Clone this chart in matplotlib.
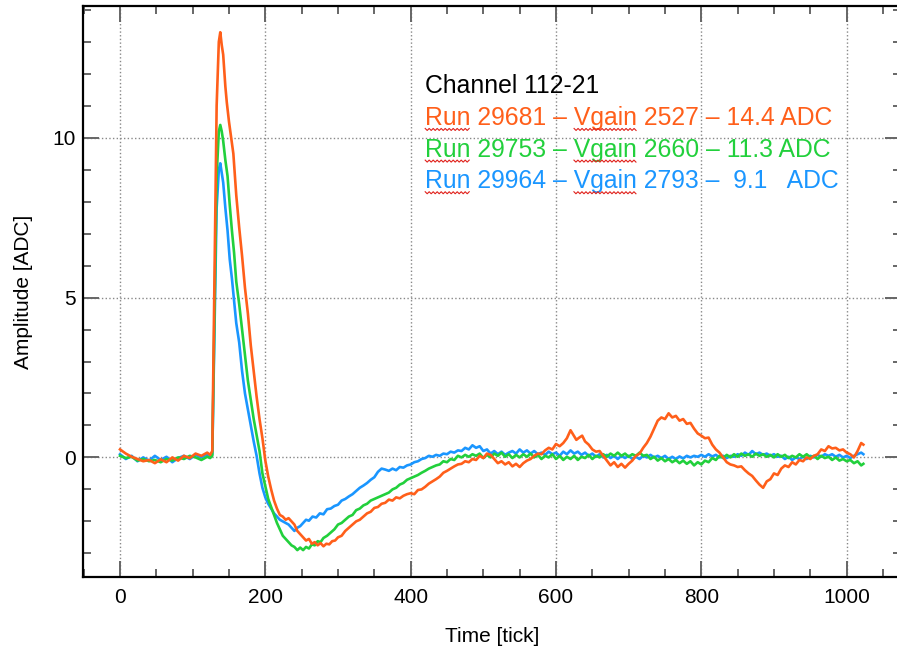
import matplotlib
matplotlib.use('Agg')
import matplotlib.pyplot as plt
from matplotlib.ticker import MultipleLocator
import numpy as np

# Fonts: Helvetica-like sans for axes, same family for the annotation block
plt.rcParams['font.family'] = ['Liberation Sans', 'DejaVu Sans']
plt.rcParams['font.size'] = 15

# Colours (ROOT style pulse overlay)
C_ORANGE = '#FF5F1A'
C_GREEN = '#22D03C'
C_BLUE = '#1A96FF'
C_SQUIGGLE = '#E0201A'

# ── Waveform samples (tick, amplitude [ADC]) ──────────────────────────────────
tick_orange = [0, 8, 16, 24, 32, 40, 48, 56, 64, 72, 80, 88, 96, 104, 112, 120, 124, 127,
               130, 133, 136, 138, 140, 142, 145, 147, 150, 153, 156, 160, 164, 168, 172,
               176, 180, 184, 188, 192, 196, 200, 204, 208, 212, 216, 220, 224, 228, 232,
               236, 240, 244, 248, 252, 256, 260, 264, 268, 272, 276, 280, 284, 288, 292,
               296, 300, 305, 310, 315, 320, 325, 330, 335, 340, 345, 350, 355, 360, 365,
               370, 375, 380, 385, 390, 395, 400, 405, 410, 415, 420, 425, 430, 435, 440,
               445, 450, 455, 460, 465, 470, 475, 480, 485, 490, 495, 500, 505, 510, 515,
               520, 525, 530, 535, 540, 545, 550, 555, 560, 565, 570, 575, 580, 585, 590,
               595, 600, 605, 610, 615, 620, 624, 628, 632, 636, 640, 645, 650, 655, 660,
               665, 670, 675, 680, 685, 690, 695, 700, 705, 710, 715, 720, 725, 730, 735,
               740, 745, 750, 755, 760, 765, 770, 775, 780, 785, 790, 795, 800, 805, 810,
               815, 820, 825, 830, 835, 840, 845, 850, 855, 860, 865, 870, 875, 880, 885,
               890, 895, 900, 905, 910, 915, 920, 925, 930, 935, 940, 945, 950, 955, 960,
               965, 970, 975, 980, 985, 990, 995, 1000, 1005, 1010, 1015, 1020, 1023]
amp_orange = [0.25, 0.12, 0.02, -0.05, -0.12, -0.08, -0.18, -0.06, -0.15, 0.0, -0.1, 0.05,
              -0.02, 0.12, 0.05, 0.15, 0.08, 0.2,
              5.5, 11.0, 13.0, 13.3, 12.9, 12.6, 11.6, 11.1, 10.5, 10.0, 9.5, 8.2, 7.2, 6.3,
              5.3, 4.5, 3.5, 2.7, 1.9, 1.2, 0.6, -0.1, -0.6, -1.0, -1.35, -1.6, -1.8, -1.85,
              -1.95, -1.9, -2.0, -2.1, -2.3, -2.4, -2.5, -2.6, -2.55, -2.7, -2.65, -2.75,
              -2.68, -2.78, -2.7, -2.72, -2.62, -2.6, -2.5, -2.45, -2.3, -2.2, -2.1, -2.0,
              -1.95, -1.85, -1.75, -1.7, -1.58, -1.55, -1.45, -1.42, -1.32, -1.35, -1.25,
              -1.28, -1.2, -1.15, -1.12, -1.15, -1.02, -1.0, -0.92, -0.82, -0.75, -0.68,
              -0.6, -0.48, -0.42, -0.35, -0.28, -0.22, -0.2, -0.12, -0.15, -0.05, -0.08,
              0.05, -0.02, 0.12, 0.08, -0.05, -0.18, -0.12, -0.22, -0.15, -0.28, -0.2, -0.3,
              -0.18, -0.1, -0.05, 0.05, 0.12, 0.1, 0.22, 0.3, 0.25, 0.42, 0.35, 0.45, 0.6,
              0.85, 0.7, 0.55, 0.62, 0.68, 0.5, 0.4, 0.25, 0.18, 0.2, 0.05, -0.1, -0.25,
              -0.15, -0.3, -0.2, -0.32, -0.2, -0.1, 0.05, 0.12, 0.3, 0.45, 0.65, 0.9, 1.15,
              1.25, 1.2, 1.38, 1.25, 1.3, 1.15, 1.2, 1.05, 1.08, 0.9, 0.75, 0.68, 0.6, 0.62,
              0.4, 0.25, 0.15, 0.0, -0.15, -0.22, -0.25, -0.3, -0.28, -0.4, -0.5, -0.58,
              -0.72, -0.85, -0.95, -0.75, -0.68, -0.5, -0.55, -0.35, -0.25, -0.3, -0.15,
              -0.22, -0.08, -0.12, 0.0, -0.05, 0.05, 0.1, 0.25, 0.2, 0.35, 0.28, 0.3, 0.22,
              0.25, 0.15, 0.1, 0.0, 0.2, 0.45, 0.4]

tick_green = [0, 8, 16, 24, 32, 40, 48, 56, 64, 72, 80, 88, 96, 104, 112, 120, 124, 127,
              130, 133, 136, 138, 140, 142, 145, 148, 151, 154, 157, 160, 164, 168, 172,
              176, 180, 184, 188, 192, 196, 200, 204, 208, 212, 216, 220, 224, 228, 232,
              236, 240, 244, 248, 252, 256, 260, 264, 268, 272, 276, 280, 285, 290, 295,
              300, 305, 310, 315, 320, 325, 330, 335, 340, 345, 350, 355, 360, 365, 370,
              375, 380, 385, 390, 395, 400, 405, 410, 415, 420, 425, 430, 435, 440, 445,
              450, 455, 460, 465, 470, 475, 480, 485, 490, 495, 500, 505, 510, 515, 520,
              525, 530, 535, 540, 545, 550, 555, 560, 565, 570, 575, 580, 585, 590, 595,
              600, 605, 610, 615, 620, 625, 630, 635, 640, 645, 650, 655, 660, 665, 670,
              675, 680, 685, 690, 695, 700, 705, 710, 715, 720, 725, 730, 735, 740, 745,
              750, 755, 760, 765, 770, 775, 780, 785, 790, 795, 800, 805, 810, 815, 820,
              825, 830, 835, 840, 845, 850, 855, 860, 865, 870, 875, 880, 885, 890, 895,
              900, 905, 910, 915, 920, 925, 930, 935, 940, 945, 950, 955, 960, 965, 970,
              975, 980, 985, 990, 995, 1000, 1005, 1010, 1015, 1020, 1023]
amp_green = [0.05, -0.02, 0.02, -0.1, -0.05, -0.12, -0.08, -0.15, -0.05, -0.1, 0.0, -0.05,
             0.05, 0.0, -0.08, 0.02, -0.02, 0.05,
             4.5, 8.8, 10.2, 10.4, 10.2, 9.9, 9.3, 8.8, 7.9, 7.1, 6.4, 5.5, 4.8, 4.0, 3.2,
             2.4, 1.8, 1.2, 0.7, 0.2, -0.5, -0.9, -1.3, -1.55, -1.8, -2.05, -2.25, -2.45,
             -2.55, -2.65, -2.75, -2.8, -2.9, -2.82, -2.9, -2.8, -2.85, -2.72, -2.75, -2.62,
             -2.65, -2.52, -2.45, -2.35, -2.25, -2.1, -2.05, -1.95, -1.85, -1.8, -1.65,
             -1.6, -1.5, -1.45, -1.35, -1.3, -1.25, -1.2, -1.15, -1.1, -1.0, -0.95, -0.85,
             -0.8, -0.7, -0.65, -0.6, -0.55, -0.48, -0.42, -0.35, -0.3, -0.25, -0.22,
             -0.12, -0.15, -0.05, -0.08, 0.05, 0.0, 0.08, 0.02, 0.1, 0.05, 0.12, -0.02,
             0.08, 0.0, 0.12, 0.05, 0.15, 0.02, 0.1, -0.02, 0.08, 0.0, 0.1, 0.02, 0.12, 0.0,
             0.08, -0.05, 0.05, 0.0, 0.1, -0.05, 0.05, -0.08, 0.02, -0.05, 0.05, -0.08,
             0.02, -0.02, 0.08, -0.05, 0.05, 0.0, 0.1, 0.02, 0.12, 0.05, 0.15, 0.05, 0.12,
             0.02, 0.1, 0.05, 0.15, 0.05, 0.08, -0.05, 0.02, -0.1, -0.02, -0.12, -0.05,
             -0.15, -0.08, -0.18, -0.1, -0.2, -0.12, -0.25, -0.15, -0.22, -0.1, -0.15,
             -0.02, -0.08, 0.05, -0.02, 0.08, 0.0, 0.1, 0.02, 0.12, 0.05, 0.1, 0.02, 0.12,
             0.05, 0.1, 0.02, 0.08, 0.0, 0.1, 0.02, 0.08, -0.02, 0.05, 0.0, 0.1, 0.02, 0.1,
             0.0, 0.05, -0.05, 0.05, -0.02, 0.02, -0.08, 0.0, -0.1, -0.05, -0.12, -0.08,
             -0.18, -0.12, -0.25, -0.2]

tick_blue = [0, 8, 16, 24, 32, 40, 48, 56, 64, 72, 80, 88, 96, 104, 112, 120, 124, 127,
             130, 133, 136, 138, 140, 142, 145, 148, 151, 154, 157, 160, 164, 168, 172,
             176, 180, 184, 188, 192, 196, 200, 204, 208, 212, 216, 220, 224, 228, 232,
             236, 240, 244, 248, 252, 256, 260, 265, 270, 275, 280, 285, 290, 295, 300,
             305, 310, 315, 320, 325, 330, 335, 340, 345, 350, 355, 360, 365, 370, 375,
             380, 385, 390, 395, 400, 405, 410, 415, 420, 425, 430, 435, 440, 445, 450,
             455, 460, 465, 470, 475, 480, 485, 490, 495, 500, 505, 510, 515, 520, 525,
             530, 535, 540, 545, 550, 555, 560, 565, 570, 575, 580, 585, 590, 595, 600,
             605, 610, 615, 620, 625, 630, 635, 640, 645, 650, 655, 660, 665, 670, 675,
             680, 685, 690, 695, 700, 705, 710, 715, 720, 725, 730, 735, 740, 745, 750,
             755, 760, 765, 770, 775, 780, 785, 790, 795, 800, 805, 810, 815, 820, 825,
             830, 835, 840, 845, 850, 855, 860, 865, 870, 875, 880, 885, 890, 895, 900,
             905, 910, 915, 920, 925, 930, 935, 940, 945, 950, 955, 960, 965, 970, 975,
             980, 985, 990, 995, 1000, 1005, 1010, 1015, 1020, 1023]
amp_blue = [0.1, -0.05, 0.05, -0.12, 0.0, -0.1, 0.05, -0.08, 0.02, -0.15, -0.02, 0.05,
            -0.05, 0.08, 0.0, 0.1, 0.02, 0.1,
            4.0, 7.8, 9.0, 9.2, 8.9, 8.6, 7.8, 7.1, 6.2, 5.6, 4.9, 4.2, 3.6, 2.7, 2.0, 1.5,
            1.0, 0.5, 0.05, -0.5, -0.95, -1.25, -1.45, -1.6, -1.75, -1.85, -1.95, -2.0,
            -2.05, -2.1, -2.2, -2.3, -2.2, -2.15, -2.05, -1.95, -1.98, -1.85, -1.88, -1.75,
            -1.78, -1.62, -1.6, -1.52, -1.48, -1.35, -1.3, -1.22, -1.15, -1.05, -0.95,
            -0.88, -0.8, -0.7, -0.62, -0.45, -0.35, -0.38, -0.42, -0.35, -0.4, -0.3, -0.32,
            -0.25, -0.22, -0.15, -0.12, -0.05, -0.02, 0.05, 0.02, 0.08, 0.05, 0.12, 0.1,
            0.18, 0.15, 0.22, 0.2, 0.3, 0.25, 0.38, 0.3, 0.35, 0.2, 0.25, 0.12, 0.2, 0.1,
            0.18, 0.08, 0.15, 0.2, 0.12, 0.25, 0.15, 0.22, 0.12, 0.2, 0.1, 0.15, 0.08,
            0.18, 0.1, 0.15, 0.05, 0.18, 0.1, 0.22, 0.12, 0.18, 0.08, 0.15, 0.05, 0.12,
            0.02, 0.1, 0.0, 0.08, -0.02, 0.05, -0.05, 0.05, -0.02, 0.05, -0.05, 0.02,
            -0.05, 0.05, 0.0, 0.08, 0.0, 0.05, -0.02, 0.05, -0.05, 0.02, -0.05, 0.03,
            -0.03, 0.05, 0.0, 0.05, 0.02, 0.08, 0.02, 0.1, 0.03, 0.08, 0.0, 0.05, -0.02,
            0.05, 0.02, 0.1, 0.05, 0.15, 0.08, 0.2, 0.1, 0.15, 0.08, 0.12, 0.05, 0.1, 0.02,
            0.05, -0.05, 0.02, -0.08, 0.0, -0.05, 0.02, -0.05, 0.05, 0.0, 0.08, 0.02, 0.1,
            0.05, 0.1, 0.02, 0.08, 0.0, 0.05, -0.02, 0.05, 0.1, 0.15, 0.1]

# Annotation block (top right)
header = 'Channel 112-21'
run_labels = ['Run 29681 \u2013 Vgain 2527 \u2013 14.4 ADC',
              'Run 29753 \u2013 Vgain 2660 \u2013 11.3 ADC',
              'Run 29964 \u2013 Vgain 2793 \u2013  9.1   ADC']
run_colors = [C_ORANGE, C_GREEN, C_BLUE]
# words that carry the red spell-check squiggle in the original slide
flagged_words = ['Run', 'Vgain']

fig = plt.figure(figsize=(8.97, 6.48), dpi=100)
# axes deliberately runs a few pixels past the right edge (cropped screenshot)
ax = fig.add_axes([0.0923, 0.1096, 0.9125, 0.8811])

ax.plot(tick_blue, amp_blue, color=C_BLUE, linewidth=1.9)
ax.plot(tick_green, amp_green, color=C_GREEN, linewidth=1.9)
ax.plot(tick_orange, amp_orange, color=C_ORANGE, linewidth=1.9)

ax.set_xlim(-51.2, 1075.2)
ax.set_ylim(-3.74, 14.12)

ax.xaxis.set_major_locator(MultipleLocator(200))
ax.xaxis.set_minor_locator(MultipleLocator(50))
ax.yaxis.set_major_locator(MultipleLocator(5))
ax.yaxis.set_minor_locator(MultipleLocator(1))

ax.tick_params(which='both', direction='in', top=True, right=True,
               color='#666666', width=1.4, labelsize=15)
ax.tick_params(which='major', length=11.5)
ax.tick_params(which='minor', length=5.8)
ax.tick_params(axis='x', pad=8)
ax.tick_params(axis='y', pad=5)

for side in ax.spines.values():
    side.set_linewidth(1.6)
    side.set_color('black')

ax.grid(True, which='major', linestyle=':', color='#888888', linewidth=1.0)

ax.set_xlabel('Time [tick]', fontsize=15, labelpad=14)
ax.set_ylabel('Amplitude [ADC]', fontsize=15, labelpad=14)

# Text block, placed in data coordinates
TXT_SIZE = 17.8
ax.text(420, 11.4, header, color='black', fontsize=TXT_SIZE, va='baseline')
run_texts = []
for i, (lab, col) in enumerate(zip(run_labels, run_colors)):
    t = ax.text(420, 10.4 - i * 0.99, lab, color=col, fontsize=TXT_SIZE, va='baseline')
    run_texts.append(t)

# Red wavy underline under the flagged words: measure the word spans with the renderer
renderer = fig.canvas.get_renderer()
for t, lab in zip(run_texts, run_labels):
    full = t.get_window_extent(renderer)
    x0_disp, y0_disp = ax.transData.transform((420, t.get_position()[1]))
    for word in flagged_words:
        start = lab.index(word)
        probe = ax.text(420, t.get_position()[1], lab[:start], fontsize=TXT_SIZE)
        offset = probe.get_window_extent(renderer).width if start > 0 else 0
        probe.remove()
        probe = ax.text(420, t.get_position()[1], word, fontsize=TXT_SIZE)
        w = probe.get_window_extent(renderer).width
        probe.remove()
        xs = np.arange(x0_disp + offset, x0_disp + offset + w, 2.0)
        ys = y0_disp - 4.5 + np.where(np.arange(len(xs)) % 2 == 0, 1.0, -1.0)
        fig.add_artist(plt.Line2D(xs, ys, transform=None, color=C_SQUIGGLE,
                                  linewidth=0.8))

fig.savefig('out.png', dpi=100)
plt.close(fig)
